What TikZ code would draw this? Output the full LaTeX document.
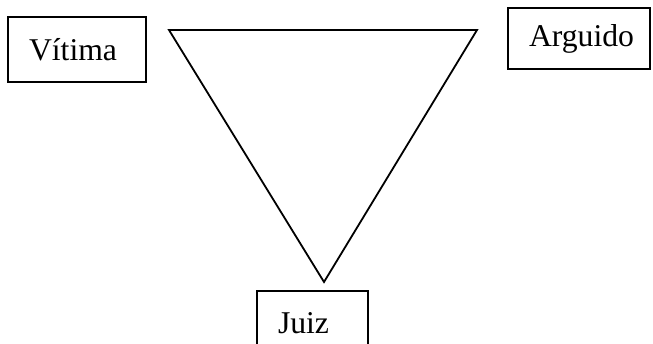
\documentclass[tikz,border=0pt]{standalone}
\usepackage{fontspec}
\setmainfont{Liberation Serif}
\usetikzlibrary{positioning}

\begin{document}
\begin{tikzpicture}[
    x=1pt, y=-1pt,
    box/.style={rectangle, draw, line width=1.8pt, inner xsep=21pt, minimum height=65pt, align=left, font=\fontsize{31.7pt}{38pt}\selectfont},
    edge/.style={line width=1.8pt, line join=miter}
]
\path[use as bounding box, clip] (0,0) rectangle (653,343);

% Triangle
\coordinate (tl) at (169,30);
\coordinate (tr) at (477,30);
\coordinate (bot) at (324,282);
\draw[edge] (tl) -- (tr) -- (bot) -- cycle;

% Parties
\node[box, text width=96pt] (vitima) at (77,49.5) {Vítima};
\node[box, text width=100pt, minimum height=61pt] (arguido) at (579,38.5) {Arguido};
\node[box, text width=69pt] (juiz) at (312.5,323.5) {Juiz};

\end{tikzpicture}
\end{document}
